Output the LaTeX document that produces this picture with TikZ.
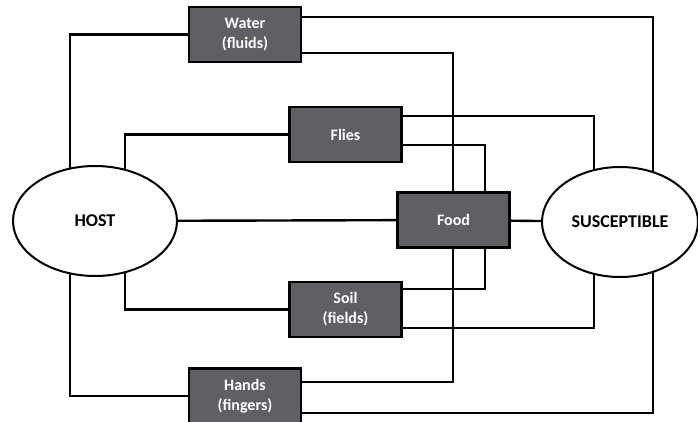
\documentclass[tikz,border=0pt]{standalone}
\usepackage{fontspec}
\setmainfont{Carlito}
\usetikzlibrary{shapes.geometric,backgrounds}
\definecolor{boxgrey}{RGB}{96,96,100}
\begin{document}
\begin{tikzpicture}[x=1pt,y=-1pt,
  agent/.style={draw=black,line width=2.5pt,fill=boxgrey,text=white,
    minimum width=112pt,minimum height=55pt,inner sep=0pt,align=center,
    font=\fontsize{16}{20}\selectfont\bfseries},
  party/.style={ellipse,draw=black,line width=2pt,fill=white,
    minimum width=164pt,minimum height=110pt,inner sep=0pt,
    font=\fontsize{18}{21}\selectfont\bfseries},
  link/.style={draw=black,line width=2.4pt}]
\useasboundingbox (0,0) rectangle (698,422);
% ellipses
\node[party] (host) at (95,221) {HOST};
\node[party,minimum width=156pt] (susc) at (620,222) {SUSCEPTIBLE};
% boxes
\node[agent] (water) at (245,34.5) {Water\\(fluids)};
\node[agent] (flies) at (345.5,134.5) {Flies};
\node[agent] (food)  at (453.5,220) {Food};
\node[agent] (soil)  at (345.5,309.5) {Soil\\(fields)};
\node[agent] (hands) at (245,396) {Hands\\(fingers)};
% routing corners
\coordinate (hL) at (70,221);
\coordinate (hR) at (125,221);
\coordinate (sL) at (594,222);
\coordinate (sR) at (653,222);
\coordinate (wU) at (302,17);
\coordinate (wD) at (302,53);
\coordinate (fU) at (402,116);
\coordinate (fD) at (402,145);
\coordinate (oU) at (402,289);
\coordinate (oD) at (402,328);
\coordinate (nU) at (302,382);
\coordinate (nD) at (302,413);
\coordinate (fa) at (453,220);
\coordinate (fb) at (485,220);
\begin{scope}[on background layer]
  \fill[white] (0,0) rectangle (698,422);
  % host side
  \draw[link] (water.west) -| (hL);
  \draw[link] (flies.west) -| (hR);
  \draw[link] (soil.west) -| (hR);
  \draw[link] (hands.west) -| (hL);
  % susceptible side
  \draw[link] (wU) -| (sR);
  \draw[link] (fU) -| (sL);
  \draw[link] (oD) -| (sL);
  \draw[link] (nD) -| (sR);
  % food links
  \draw[link] (wD) -| (fa);
  \draw[link] (fD) -| (fb);
  \draw[link] (oU) -| (fb);
  \draw[link] (nU) -| (fa);
  \draw[link] (host) -- (food);
  \draw[link] (food) -- (susc);
\end{scope}
\end{tikzpicture}
\end{document}
